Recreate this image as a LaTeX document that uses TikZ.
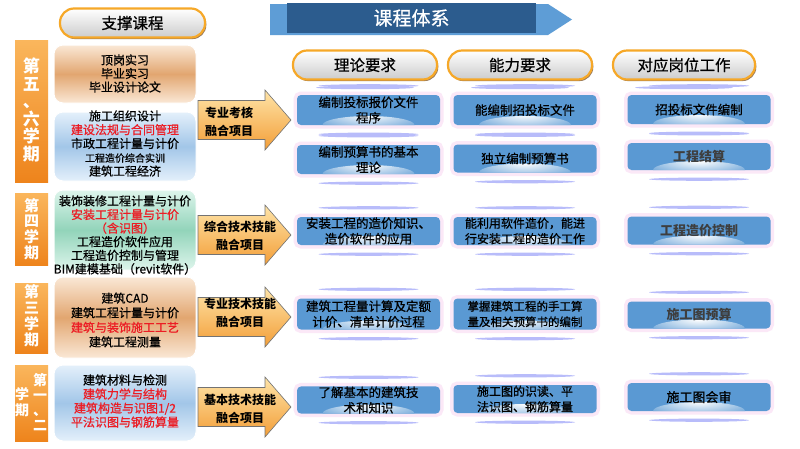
\documentclass[tikz,border=0pt]{standalone}
\usepackage{fontspec}
\setmainfont{Noto Sans CJK SC}
\newfontfamily\medfont[FakeBold=0.7]{Noto Sans CJK SC}
\usetikzlibrary{calc,shadows}
\definecolor{barA}{RGB}{250,182,92}
\definecolor{barB}{RGB}{238,132,28}
\definecolor{tanM}{RGB}{226,166,112}
\definecolor{tanE}{RGB}{250,232,214}
\definecolor{bluM}{RGB}{162,198,232}
\definecolor{bluE}{RGB}{228,240,251}
\definecolor{grnM}{RGB}{146,212,186}
\definecolor{grnE}{RGB}{222,245,236}
\definecolor{cellblue}{RGB}{90,153,211}
\definecolor{halo}{RGB}{251,232,247}
\definecolor{lav}{RGB}{184,188,250}
\definecolor{bandL}{RGB}{94,157,214}
\definecolor{bandD}{RGB}{44,92,142}
\definecolor{arrT}{RGB}{254,228,168}
\definecolor{arrB}{RGB}{243,158,56}
\definecolor{pillO}{RGB}{246,168,40}
\definecolor{redtxt}{RGB}{236,28,36}
\definecolor{graytxt}{RGB}{62,62,62}
\tikzset{
  pill/.style={rounded corners=14pt, draw=pillO, line width=2.2pt,
    top color=white, bottom color=black!20, minimum height=29, inner sep=0pt,
    font=\medfont\fontsize{15.5}{16}\selectfont,
    drop shadow={shadow xshift=1.3pt, shadow yshift=-1.6pt, fill=brown!60!black, opacity=0.75}},
  bar/.style={minimum width=33, inner sep=0pt, top color=barA, bottom color=barB},
  bartext/.style={text=white, align=center, inner sep=0pt, font=\bfseries},
  course/.style={rounded corners=9pt, minimum width=142, inner sep=0pt, draw=white, line width=1pt},
  ctan/.style={course, top color=tanE, bottom color=tanE, middle color=tanM},
  cblu/.style={course, top color=bluE, bottom color=bluE, middle color=bluM},
  cgrn/.style={course, top color=grnE, bottom color=grnE, middle color=grnM},
  ctext/.style={align=center, inner sep=0pt},
  arrowshape/.style={top color=arrT, bottom color=arrB, draw=black!55, line width=0.6pt},
  arrtext/.style={align=left, inner sep=0pt, font=\bfseries\fontsize{12}{18.5}\selectfont},
  cell/.style={rounded corners=4pt, fill=cellblue, minimum width=143, minimum height=29,
    inner xsep=2pt, inner ysep=0pt, align=center, font=\medfont\fontsize{12.5}{15.5}\selectfont,
    preaction={draw=halo, line width=7pt},
    path picture={\shade[inner color=white, outer color=cellblue]
      (path picture bounding box.south) ellipse [x radius=46pt, y radius=9pt];}},
  gcell/.style={cell, text=graytxt, font=\bfseries\fontsize{13}{15}\selectfont},
  lavline/.style={fill=lav}
}
\newcommand\bigarrow[1]{%
  \path[arrowshape] (198,{#1-19.5}) -- (265,{#1-19.5}) -- (265,{#1-30}) -- (291,#1)
    -- (265,{#1+30}) -- (265,{#1+19.5}) -- (198,{#1+19.5}) -- cycle;}
\begin{document}
\begin{tikzpicture}[x=1pt,y=-1pt]
\useasboundingbox (0,0) rectangle (800,448);
\fill[white] (0,0) rectangle (800,448);

% banner
\fill[bandL] (270,4) -- (548,4) -- (572,19.5) -- (548,35) -- (270,35) -- cycle;
\node[fill=bandD, minimum width=249, minimum height=30, inner sep=0pt, text=white,
  font=\medfont\fontsize{19}{20}\selectfont] (banner) at (411.5,18) {课程体系};

% pills
\node[pill, minimum width=145] (p0) at (132.5,23) {支撑课程};
\node[pill, minimum width=144] (p1) at (365,65) {理论要求};
\node[pill, minimum width=144] (p2) at (520,65) {能力要求};
\node[pill, minimum width=142] (p3) at (684,65) {对应岗位工作};
\foreach \p in {p1,p2,p3}{
  \fill[lavline] ($(\p.south)+(0,7)$) ellipse [x radius=49, y radius=1.6];}

% semester bars
\node[bar, minimum height=142] (s1) at (31.5,111) {};
\node[bartext, font=\bfseries\fontsize{17}{17.5}\selectfont] (s1t) at (31.5,110) {第\\五\\、\\六\\学\\期};
\node[bar, minimum height=72] (s2) at (31.5,229) {};
\node[bartext, font=\bfseries\fontsize{15}{15.7}\selectfont] (s2t) at (31.5,229) {第\\四\\学\\期};
\node[bar, minimum height=70] (s3) at (31.5,318) {};
\node[bartext, font=\bfseries\fontsize{15}{16}\selectfont] (s3t) at (31.5,316) {第\\三\\学\\期};
\node[bar, minimum height=76] (s4) at (31.5,403) {};
\node[bartext, font=\bfseries\fontsize{14}{15}\selectfont] (s4a) at (40,402.5) {第\\一\\、\\二};
\node[bartext, font=\bfseries\fontsize{14}{16}\selectfont] (s4b) at (22,402) {学\\期};

% course boxes
\node[ctan, minimum height=58] (c1) at (125,74) {};
\node[ctext, font=\medfont\fontsize{12}{13.5}\selectfont] (c1t) at (125,73.5) {顶岗实习\\毕业实习\\毕业设计论文};
\node[cblu, minimum height=69] (c2) at (125,146.5) {};
\node[ctext, font=\medfont\fontsize{12}{13.8}\selectfont] (c2t) at (125,143.5)
  {施工组织设计\\\textcolor{redtxt}{建设法规与合同管理}\\市政工程计量与计价\\{\fontsize{10}{13.8}\selectfont 工程造价综合实训}\\建筑工程经济};
\node[cgrn, minimum height=80] (c3) at (125,230) {};
\node[ctext, font=\medfont\fontsize{12}{13.6}\selectfont] (c3t) at (125,235)
  {装饰装修工程计量与计价\\\textcolor{redtxt}{安装工程计量与计价}\\\textcolor{redtxt}{（含识图）}\\工程造价软件应用\\工程造价控制与管理\\BIM建模基础（revit软件）};
\node[ctan, minimum height=81] (c4) at (125,317.5) {};
\node[ctext, font=\medfont\fontsize{12}{14.6}\selectfont] (c4t) at (125,320)
  {建筑CAD\\建筑工程计量与计价\\\textcolor{redtxt}{建筑与装饰施工工艺}\\建筑工程测量};
\node[cblu, minimum height=76] (c5) at (125,403) {};
\node[ctext, font=\medfont\fontsize{12}{14}\selectfont] (c5t) at (125,401)
  {建筑材料与检测\\\textcolor{redtxt}{建筑力学与结构}\\\textcolor{redtxt}{建筑构造与识图1/2}\\\textcolor{redtxt}{平法识图与钢筋算量}};

% arrows
\bigarrow{120}
\node[arrtext] (a1) at (229,122) {专业考核\\融合项目};
\bigarrow{235}
\node[arrtext, align=center] (a2) at (240,236) {综合技术技能\\融合项目};
\bigarrow{317}
\node[arrtext, align=center] (a3) at (240,313) {专业技术技能\\融合项目};
\bigarrow{407}
\node[arrtext, align=center] (a4) at (240,409) {基本技术技能\\融合项目};

% cells
\node[cell, minimum height=30] (r1a) at (368.5,110) {编制投标报价文件\\程序};
\node[cell, minimum height=29] (r2a) at (368.5,159.5) {编制预算书的基本\\理论};
\node[cell, minimum height=28] (r3a) at (368.5,231) {安装工程的造价知识、\\造价软件的应用};
\node[cell, minimum height=31] (r4a) at (368.5,314) {建筑工程量计算及定额\\计价、清单计价过程};
\node[cell, minimum height=27] (r5a) at (368.5,400) {了解基本的建筑技\\术和知识};

\node[cell, minimum height=30] (r1b) at (525,110) {能编制招投标文件};
\node[cell, minimum height=28] (r2b) at (525,158.5) {独立编制预算书};
\node[cell, minimum height=28, font=\medfont\fontsize{12}{15.5}\selectfont] (r3b) at (525,231) {能利用软件造价，能进\\行安装工程的造价工作};
\node[cell, minimum height=31, font=\medfont\fontsize{11.5}{15.5}\selectfont] (r4b) at (525,314) {掌握建筑工程的手工算\\量及相关预算书的编制};
\node[cell, minimum height=28, font=\medfont\fontsize{12}{15.5}\selectfont] (r5b) at (525,399) {施工图的识读、平\\法识图、钢筋算量};

\node[cell, minimum height=29] (r1c) at (699,109.5) {招投标文件编制};
\node[gcell, minimum height=27] (r2c) at (699,156.5) {工程结算};
\node[gcell, minimum height=28] (r3c) at (699,230.5) {工程造价控制};
\node[gcell, minimum height=27] (r4c) at (699,315) {施工图预算};
\node[cell, minimum height=28, font=\medfont\fontsize{13}{15}\selectfont] (r5c) at (699,397) {施工图会审};

\foreach \c in {r1a,r2a,r3a,r4a,r5a,r1b,r2b,r3b,r4b,r5b,r1c,r2c,r3c,r4c,r5c}{
  \fill[lavline] ($(\c.north)+(0,-9)$) ellipse [x radius=50, y radius=1.6];
  \fill[lavline] ($(\c.south)+(0,9)$) ellipse [x radius=50, y radius=1.6];}
\end{tikzpicture}
\end{document}
